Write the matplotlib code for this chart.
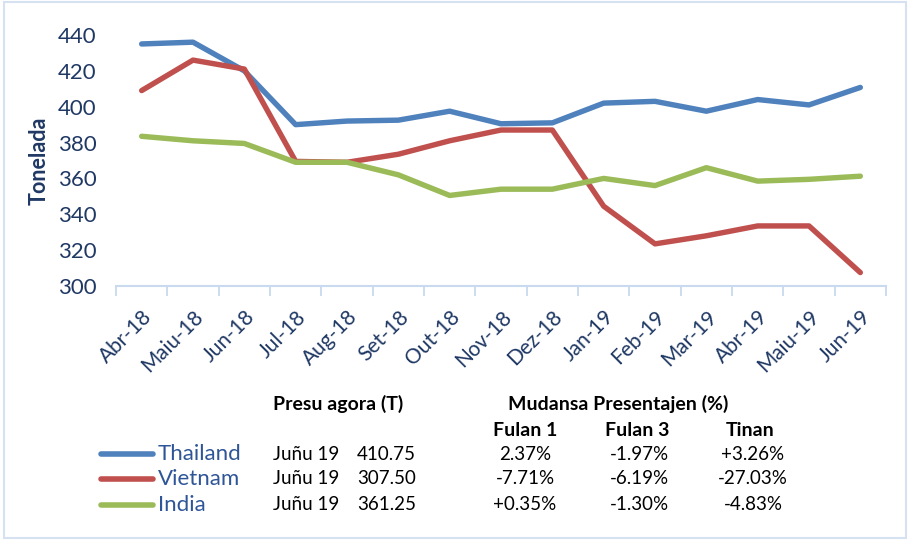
import numpy as np
import matplotlib
matplotlib.use('Agg')
import matplotlib.pyplot as plt
from matplotlib.patches import Rectangle
from matplotlib.lines import Line2D

plt.rcParams['font.family'] = ['Lato', 'DejaVu Sans']

# data
months = ['Abr-18', 'Maiu-18', 'Jun-18', 'Jul-18', 'Aug-18', 'Set-18', 'Out-18', 'Nov-18',
          'Dez-18', 'Jan-19', 'Feb-19', 'Mar-19', 'Abr-19', 'Maiu-19', 'Jun-19']
thailand = [435, 436, 420, 390, 392, 392.5, 397.5, 390.5, 391, 402, 403, 397.5, 404, 401, 410.75]
vietnam = [409, 426, 421, 369.5, 369, 373.5, 381, 387, 387, 344.5, 323.5, 328, 333.5, 333.5, 307.5]
india = [383.5, 381, 379.5, 369, 369, 362, 350.5, 354, 354, 360, 356, 366, 358.5, 359.5, 361.25]

countries = ['Thailand', 'Vietnam', 'India']
colors = ['#4F81BD', '#C0504D', '#9BBB59']
latest = ['410.75', '307.50', '361.25']
fulan1 = ['2.37%', '-7.71%', '+0.35%']
fulan3 = ['-1.97%', '-6.19%', '-1.30%']
tinan = ['+3.26%', '-27.03%', '-4.83%']

W, H = 910, 540
fig = plt.figure(figsize=(W / 100, H / 100), dpi=100)
navy = '#1F3864'
axis_col = '#C9D9EE'

def fx(x):
    return x / W

def fy(y):
    return 1 - y / H

ax = fig.add_axes([fx(116), fy(286), fx(886) - fx(116), fy(35) - fy(286)])
x = np.arange(len(months))
for series, c in zip([thailand, vietnam, india], colors):
    ax.plot(x, series, color=c, lw=3.9, solid_capstyle='round', solid_joinstyle='round')

ax.set_xlim(-0.5, len(months) - 0.5)
ax.set_ylim(300, 440)
ax.set_yticks(range(300, 441, 20))
ax.set_xticks(x)
ax.set_xticklabels(months, rotation=45, ha='right', rotation_mode='anchor')
ax.set_xticks(np.arange(-0.5, len(months)), minor=True)
ax.tick_params(axis='x', which='major', length=0, pad=15, labelsize=15, labelcolor=navy)
ax.tick_params(axis='x', which='minor', length=7, width=1.3, color=axis_col)
ax.tick_params(axis='y', length=0, pad=14, labelsize=16, labelcolor=navy)
for s in ['top', 'right', 'left']:
    ax.spines[s].set_visible(False)
ax.spines['bottom'].set_color(axis_col)
ax.spines['bottom'].set_linewidth(1.5)
ax.set_ylabel('Tonelada', fontsize=15.5, fontweight='bold', color=navy, labelpad=6)

# outer chart border
fig.patches.append(Rectangle((fx(4), 0.003), fx(902), 0.994, transform=fig.transFigure,
                             fill=False, edgecolor='#D6E2F2', lw=1.5))

# legend + table
fig.text(fx(273), fy(404), 'Presu agora (T)', fontsize=14, fontweight='bold', va='center')
fig.text(fx(618), fy(404), 'Mudansa Presentajen (%)', fontsize=14, fontweight='bold', va='center', ha='center')
for label, xc in zip(['Fulan 1', 'Fulan 3', 'Tinan'], [525, 637, 750]):
    fig.text(fx(xc), fy(430), label, fontsize=14, fontweight='bold', va='center', ha='center')

rows_y = [454, 479, 505]
for i, name in enumerate(countries):
    yy = fy(rows_y[i])
    fig.add_artist(Line2D([fx(101), fx(153)], [yy, yy], transform=fig.transFigure,
                          color=colors[i], lw=4, solid_capstyle='round'))
    fig.text(fx(158), yy, name, fontsize=16, color='#2E5597', va='center')
    fig.text(fx(273), yy, 'Juñu 19', fontsize=13.5, va='center')
    fig.text(fx(357), yy, latest[i], fontsize=13.5, va='center')
    fig.text(fx(525), yy, fulan1[i], fontsize=13.5, va='center', ha='center')
    fig.text(fx(639), yy, fulan3[i], fontsize=13.5, va='center', ha='center')
    fig.text(fx(753), yy, tinan[i], fontsize=13.5, va='center', ha='center')

fig.savefig('out.png', dpi=100)
